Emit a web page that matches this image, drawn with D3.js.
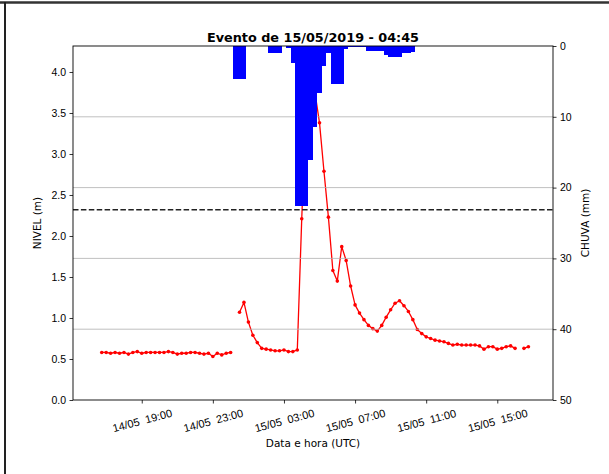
<!DOCTYPE html>
<html>
<head>
<meta charset="utf-8">
<script src="https://cdn.jsdelivr.net/npm/d3@7"></script>
<style>
  body { margin: 0; background: #fff; }
  svg { display: block; font-family: "DejaVu Sans", sans-serif; }
</style>
</head>
<body>
<svg id="chart" width="609" height="474"></svg>
<script>
// water level (m), one reading every 15 min from levelStart, null = missing
const levelStart = '2019-05-14T16:45:00Z'
const levels = [
  0.58, 0.58, 0.57, 0.58, 0.57, 0.58, 0.56, 0.58, 0.59, 0.57,
  0.58, 0.58, 0.58, 0.58, 0.58, 0.59, 0.58, 0.56, 0.57, 0.57,
  0.58, 0.58, 0.57, 0.56, 0.57, 0.53, 0.57, 0.55, 0.57, 0.58,
  null,
  1.07, 1.19, 0.95, 0.79, 0.70, 0.63, 0.62, 0.61, 0.60, 0.60,
  0.61, 0.59, 0.59, 0.61, 2.21, 3.60, 3.80, 3.74, 3.38, 2.79,
  2.23, 1.58, 1.45, 1.87, 1.70, 1.39, 1.16, 1.06, 0.98, 0.91,
  0.87, 0.84, 0.91, 1.01, 1.10, 1.18, 1.21, 1.15, 1.08, 0.98,
  0.86, 0.81, 0.77, 0.75, 0.73, 0.72, 0.71, 0.69, 0.67, 0.68,
  0.67, 0.67, 0.67, 0.67, 0.66, 0.62, 0.65, 0.65, 0.62, 0.63,
  0.65, 0.66, 0.63,
  null,
  0.63, 0.65
]

// rain (mm) per 15 min on 15/05
const rainTimes = [
  '00:15', '00:30', '00:45', '02:15', '02:30', '02:45', '03:15', '03:30',
  '03:45', '04:00', '04:15', '04:30', '04:45', '05:00', '05:15', '05:30',
  '05:45', '06:00', '06:15', '06:30', '06:45', '07:00', '07:15', '07:30',
  '07:45', '08:00', '08:15', '08:30', '08:45', '09:00', '09:15', '09:30',
  '09:45', '10:00', '10:15'
]
const rainMm = [
  4.7, 4.7, 4.7, 1.0, 1.0, 1.0, 0.3, 2.4,
  22.6, 22.6, 22.6, 16.1, 11.5, 6.7, 2.8, 1.0,
  5.4, 5.4, 5.4, 0.4, 0.2, 0.1, 0.1, 0.2,
  0.65, 0.65, 0.65, 0.65, 1.3, 1.5, 1.6, 1.6,
  1.0, 1.0, 0.9
]

const xTicks = ['2019-05-14T19:00:00Z', '2019-05-14T23:00:00Z', '2019-05-15T03:00:00Z',
  '2019-05-15T07:00:00Z', '2019-05-15T11:00:00Z', '2019-05-15T15:00:00Z']
const levelTicks = [0, 0.5, 1, 1.5, 2, 2.5, 3, 3.5, 4]
const rainTicks = [0, 10, 20, 30, 40, 50]
const alertLevel = 2.32
const xDomain = ['2019-05-14T15:08:00Z', '2019-05-15T18:08:00Z']
const levelMax = 4.317
const rainMax = 50

const titleText = 'Evento de 15/05/2019 - 04:45'

const svg = d3.select('#chart')
const margin = { top: 46, right: 56, bottom: 74, left: 73 }
const width = 609 - margin.left - margin.right
const height = 474 - margin.top - margin.bottom
const STEP = 15 * 60 * 1000

// page frame
svg.append('line').attr('x1', 0).attr('x2', 609).attr('y1', 2.5).attr('y2', 2.5)
  .attr('stroke', '#333').attr('stroke-width', 2.5)
svg.append('line').attr('x1', 5).attr('x2', 5).attr('y1', 2).attr('y2', 474)
  .attr('stroke', '#222').attr('stroke-width', 2)

const g = svg.append('g').attr('transform', 'translate(' + margin.left + ',' + margin.top + ')')

const x = d3.scaleUtc().domain(xDomain.map(d => new Date(d))).range([0, width])
const y = d3.scaleLinear().domain([0, levelMax]).range([height, 0])
const yRain = d3.scaleLinear().domain([0, rainMax]).range([0, height])

const t0 = new Date(levelStart).getTime()
const levelData = levels.map((v, i) => ({ date: new Date(t0 + i * STEP), v }))
const rainData = rainTimes.map((t, i) => ({ date: new Date('2019-05-15T' + t + ':00Z'), mm: rainMm[i] }))

// level line
const line = d3.line()
  .defined(d => d.v !== null)
  .x(d => x(d.date))
  .y(d => y(d.v))

g.append('path')
  .datum(levelData)
  .attr('fill', 'none')
  .attr('stroke', '#ff0000')
  .attr('stroke-width', 1.3)
  .attr('stroke-linejoin', 'round')
  .attr('d', line)

g.selectAll('.pt')
  .data(levelData.filter(d => d.v !== null))
  .join('circle')
  .attr('class', 'pt')
  .attr('cx', d => x(d.date))
  .attr('cy', d => y(d.v))
  .attr('r', 1.8)
  .attr('fill', '#ff0000')

// alert level
g.append('line')
  .attr('x1', 0).attr('x2', width)
  .attr('y1', y(alertLevel)).attr('y2', y(alertLevel))
  .attr('stroke', '#222')
  .attr('stroke-width', 1.5)
  .attr('stroke-dasharray', '5.5,2.4')

// grid from rain axis
g.selectAll('.grid')
  .data(rainTicks.slice(1, -1))
  .join('line')
  .attr('class', 'grid')
  .attr('x1', 0).attr('x2', width)
  .attr('y1', d => yRain(d)).attr('y2', d => yRain(d))
  .attr('stroke', '#b0b0b0')
  .attr('stroke-width', 0.8)

// rain bars hanging from the top
g.selectAll('.bar')
  .data(rainData)
  .join('rect')
  .attr('class', 'bar')
  .attr('x', d => x(new Date(d.date.getTime() - STEP / 2)))
  .attr('width', d => x(new Date(d.date.getTime() + STEP / 2)) - x(new Date(d.date.getTime() - STEP / 2)))
  .attr('y', 0)
  .attr('height', d => yRain(d.mm))
  .attr('fill', '#0000ff')
  .attr('shape-rendering', 'crispEdges')

// axes
const styleAxis = sel => {
  sel.selectAll('.tick line').attr('stroke', '#000').attr('stroke-width', 0.8)
  sel.selectAll('.tick text').attr('fill', '#000').style('font-size', '10.5px')
  sel.select('.domain').remove()
}

g.append('g')
  .call(d3.axisLeft(y).tickValues(levelTicks).tickFormat(d3.format('.1f')).tickSizeOuter(0).tickSize(3.5).tickPadding(3.5))
  .call(styleAxis)

g.append('g')
  .attr('transform', 'translate(' + width + ',0)')
  .call(d3.axisRight(yRain).tickValues(rainTicks).tickFormat(d3.format('d')).tickSizeOuter(0).tickSize(3.5).tickPadding(3.5))
  .call(styleAxis)

const xAxis = g.append('g')
  .attr('transform', 'translate(0,' + height + ')')
  .call(d3.axisBottom(x).tickValues(xTicks.map(d => new Date(d))).tickFormat(d3.utcFormat('%d/%m  %H:%M')).tickSizeOuter(0).tickSize(3.5))
  .call(styleAxis)

xAxis.selectAll('.tick text')
  .attr('y', 0)
  .attr('dy', null)
  .attr('xml:space', 'preserve')
  .attr('text-anchor', 'middle')
  .attr('dominant-baseline', 'central')
  .style('white-space', 'pre')
  .style('font-size', '11px')
  .attr('transform', 'translate(0,20.5) rotate(-15)')

// frame
g.append('rect')
  .attr('width', width).attr('height', height)
  .attr('fill', 'none')
  .attr('stroke', '#000')
  .attr('stroke-width', 0.9)

// labels
svg.append('text')
  .attr('x', margin.left + width / 2).attr('y', 42)
  .attr('text-anchor', 'middle')
  .style('font-size', '12.8px').style('font-weight', 'bold')
  .text(titleText)

svg.append('text')
  .attr('x', margin.left + width / 2).attr('y', 447)
  .attr('text-anchor', 'middle')
  .style('font-size', '10.5px')
  .text('Data e hora (UTC)')

svg.append('text')
  .attr('transform', 'translate(41,' + (margin.top + height / 2) + ') rotate(-90)')
  .attr('text-anchor', 'middle')
  .style('font-size', '10.5px')
  .text('NIVEL (m)')

svg.append('text')
  .attr('transform', 'translate(589,' + (margin.top + height / 2) + ') rotate(-90)')
  .attr('text-anchor', 'middle')
  .style('font-size', '10.5px')
  .text('CHUVA (mm)')
</script>
</body>
</html>
